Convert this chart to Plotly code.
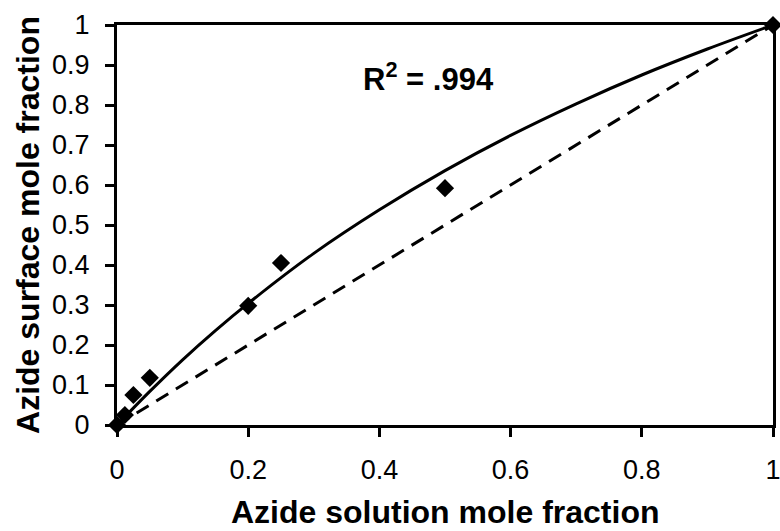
import plotly.graph_objects as go

# Measured data points (azide solution mole fraction vs surface mole fraction)
x_data = [0.0, 0.012, 0.025, 0.05, 0.2, 0.25, 0.5, 1.0]
y_data = [0.0, 0.025, 0.075, 0.118, 0.298, 0.405, 0.592, 1.0]

# Fitted curve
x_fit = [0.0, 0.05, 0.1, 0.15, 0.2, 0.3, 0.4, 0.5, 0.6, 0.7, 0.8, 0.9, 1.0]
y_fit = [0.0, 0.084, 0.163, 0.236, 0.304, 0.429, 0.538, 0.636, 0.724, 0.803, 0.875, 0.940, 1.0]

# Ideal (1:1) reference line
x_ref = [0.0, 1.0]
y_ref = [0.0, 1.0]

x_ticks = [0, 0.2, 0.4, 0.6, 0.8, 1]
x_tick_labels = ["0", "0.2", "0.4", "0.6", "0.8", "1"]
y_ticks = [0, 0.1, 0.2, 0.3, 0.4, 0.5, 0.6, 0.7, 0.8, 0.9, 1]
y_tick_labels = ["0", "0.1", "0.2", "0.3", "0.4", "0.5", "0.6", "0.7", "0.8", "0.9", "1"]

x_title = "Azide solution mole fraction"
y_title = "Azide surface mole fraction"

FONT = "Liberation Sans, Arial, sans-serif"

fig = go.Figure()
fig.add_trace(go.Scatter(x=x_ref, y=y_ref, mode="lines",
                         line=dict(color="black", width=3, dash="14px,9px"),
                         showlegend=False, hoverinfo="skip"))
fig.add_trace(go.Scatter(x=x_fit, y=y_fit, mode="lines", line_shape="spline",
                         line=dict(color="black", width=3),
                         showlegend=False))
fig.add_trace(go.Scatter(x=x_data, y=y_data, mode="markers",
                         marker=dict(symbol="diamond", size=14, color="black"),
                         showlegend=False, cliponaxis=False))

fig.add_annotation(x=0.475, y=0.87, xref="x", yref="y",
                   text="<b>R<sup>2</sup> = .994</b>", showarrow=False,
                   font=dict(family=FONT, size=31, color="black"))

# x-axis title placed as a paper annotation for exact vertical position
fig.add_annotation(x=0.5, y=-0.218, xref="paper", yref="paper",
                   xanchor="center", yanchor="middle",
                   text="<b>" + x_title + "</b>", showarrow=False,
                   font=dict(family=FONT, size=32, color="black"))

fig.update_layout(
    width=780, height=531,
    margin=dict(l=117, r=7, t=25, b=106, autoexpand=False),
    paper_bgcolor="white", plot_bgcolor="white",
    font=dict(family=FONT, size=27, color="black"),
    xaxis=dict(range=[0, 1], tickvals=x_ticks, ticktext=x_tick_labels,
               automargin=False, ticklabeloverflow="allow",
               showgrid=False, zeroline=False, showline=True, linecolor="black",
               linewidth=3, mirror=True, ticks="outside", ticklen=9, tickwidth=2.5,
               tickcolor="black", ticklabelstandoff=10),
    yaxis=dict(range=[0, 1], tickvals=y_ticks, ticktext=y_tick_labels,
               automargin=False, ticklabeloverflow="allow",
               showgrid=False, zeroline=False, showline=True, linecolor="black",
               linewidth=3, mirror=True, ticks="outside", ticklen=9, tickwidth=2.5,
               tickcolor="black", ticklabelstandoff=10,
               title=dict(text="<b>" + y_title + "</b>", standoff=3,
                          font=dict(family=FONT, size=32))),
)

fig.write_html("out.html")
